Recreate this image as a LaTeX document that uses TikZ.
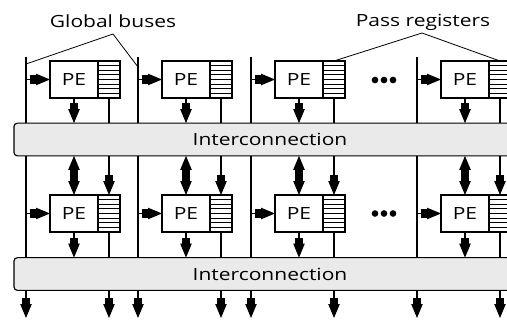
\documentclass[tikz,border=0pt]{standalone}
\usepackage{fontspec}
\setmainfont[FakeStretch=1.25]{Open Sans}
\usetikzlibrary{arrows.meta}
\pgfdeclarelayer{bg}
\pgfsetlayers{bg,main}
\definecolor{icgray}{RGB}{234,234,234}
\newcommand\lblfont{\fontsize{12.6}{14}\selectfont}
\tikzset{
  arr/.style={line width=0.85pt,-{Rectangle[length=4.5pt,width=6.5pt]Triangle[length=10.5pt,width=8.5pt]}},
  pebox/.style={draw,line width=0.85pt,fill=white,minimum width=36pt,minimum height=27.75pt,inner sep=0pt,outer sep=0pt,font=\lblfont},
  regbox/.style={draw,line width=0.85pt,fill=white,minimum width=16.5pt,minimum height=27.75pt,inner sep=0pt,outer sep=0pt,
    path picture={\foreach \k in {1,...,7}{\draw[line width=0.6pt] ([yshift=-\k*3.469pt]path picture bounding box.north west) -- ([yshift=-\k*3.469pt]path picture bounding box.north east);}}},
  icbox/.style={draw,line width=0.85pt,fill=icgray,rounded corners=2.5pt,minimum width=384pt,minimum height=24.5pt,inner sep=0pt,outer sep=0pt,font=\lblfont},
  lbl/.style={font=\lblfont,inner sep=0pt,anchor=base},
  callout/.style={line width=0.6pt}
}
\begin{document}
\begin{tikzpicture}[x=0.75pt,y=-0.75pt]
\useasboundingbox (0,0) rectangle (507,322);
\clip (0,0) rectangle (507,322);
\node[icbox] (ic1) at (270,139.5) {Interconnection};
\node[icbox] (ic2) at (270,274) {Interconnection};
\foreach \b [count=\i] in {26,138,251,417}{
  \coordinate (bt\i) at (\b,57);
  \coordinate (bb\i) at (\b,318);
  \node[pebox] (pa\i) at (\b+48,79.5) {PE};
  \node[regbox,anchor=west] (ra\i) at (pa\i.east) {};
  \node[pebox] (pb\i) at (\b+48,213.5) {PE};
  \node[regbox,anchor=west] (rb\i) at (pb\i.east) {};
  \begin{pgfonlayer}{bg}
    \draw[arr] (bt\i) -- (bb\i);
    \draw[arr] (ra\i.south) -- (rb\i.north);
    \draw[arr] (rb\i.south) -- (rb\i.south |- bb\i);
  \end{pgfonlayer}
  \draw[arr] (pa\i.west -| bt\i) -- (pa\i.west);
  \draw[arr] (pb\i.west -| bt\i) -- (pb\i.west);
  \draw[arr] (pa\i.south) -- (pa\i.south |- ic1.north);
  \draw[arr] (pb\i.south) -- (pb\i.south |- ic2.north);
  \path (pb\i.north) -- (pb\i.north |- ic1.south) coordinate[pos=0.5] (m\i);
  \draw[arr] (m\i) -- (pb\i.north);
  \draw[arr] (m\i) -- (pb\i.north |- ic1.south);
}
\foreach \y in {80,213.5}{
  \foreach \dx in {-9,0,9}{
    \fill (384+\dx,\y) circle (2.5pt);
  }
}
\node[lbl] (gb) at (113,27) {Global buses};
\node[lbl] (pr) at (423,26) {Pass registers};
\coordinate (gbp) at (113,34);
\coordinate (prp) at (422,33);
\coordinate (g1) at (26,64);
\coordinate (g2) at (138,67);
\draw[callout] (g1) -- (gbp) -- (g2);
\draw[callout] (ra3.north) -- (prp) -- (ra4.north);
\end{tikzpicture}
\end{document}
